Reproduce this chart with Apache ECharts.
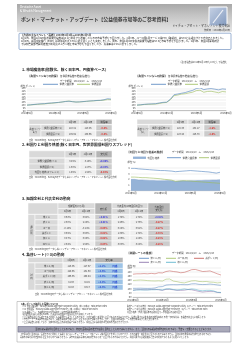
<!DOCTYPE html>
<html><head><meta charset="utf-8">
<script src="https://cdn.jsdelivr.net/npm/echarts/dist/echarts.min.js"></script>
<style>html,body{margin:0;padding:0;background:#fff}#c{width:250px;height:353px}</style>
</head><body><div id="c"></div>
<script>
// ---------- DATA ----------
const months = ['2014年2月','2014年3月','2014年4月','2014年5月','2014年6月','2014年7月','2014年8月','2014年9月','2014年10月','2014年11月','2014年12月','2015年1月','2015年2月','2015年3月','2015年4月','2015年5月','2015年6月','2015年7月','2015年8月','2015年9月','2015年10月','2015年11月','2015年12月','2016年1月','2016年2月'];
// Section 1: index (hedged / unhedged)
const utilHedged = [100,100.5,101.2,101.8,102.3,102.6,103.4,103.8,104.3,104.9,105.6,106.4,106.9,106.1,105.5,105.8,106.3,106.9,107.4,107.8,108.3,108.6,109.5,111.4,110.8];
const govtHedged = [100,100.3,100.9,101.3,101.8,102.1,102.9,103.3,104.0,104.6,105.5,106.6,107.2,106.2,105.5,105.6,106.1,106.6,107.2,107.5,108.0,108.2,108.9,109.8,109.6];
const utilUnhedged = [100,100.6,101.4,101.9,102.2,102.5,103.8,104.9,105.3,110.5,118.6,119.8,121.2,122.4,124.5,126.3,129.7,130.8,127.6,128.9,129.5,128.4,127.2,128.9,128.3];
const govtUnhedged = [100,100.2,101.1,101.4,101.6,101.8,102.9,104.1,104.8,109.6,116.9,118.0,119.6,120.3,121.8,123.0,125.9,126.6,122.9,124.4,124.7,123.4,122.0,124.2,123.5];
// Section 2: yields (%)
const spreadYield = [2.0,2.0,1.9,1.9,1.85,1.8,1.8,1.75,1.75,1.75,1.8,1.75,1.6,1.7,1.75,1.7,1.75,1.75,1.8,1.8,1.85,1.85,1.9,1.9,1.95];
const utilYield = [3.95,3.95,3.85,3.8,3.75,3.7,3.65,3.6,3.55,3.55,3.5,3.45,3.35,3.4,3.45,3.5,3.55,3.5,3.45,3.4,3.35,3.3,3.2,3.1,3.25];
const govtYield = [2.4,2.4,2.35,2.3,2.3,2.25,2.2,2.15,2.1,2.0,1.95,1.85,1.65,1.7,1.75,1.75,1.7,1.65,1.6,1.55,1.5,1.45,1.4,1.35,1.3];
// Section 4: FX (JPY)
const usdjpy = [102,102,102.5,101.8,101.5,101.8,103.5,109,110,117.5,119,119.5,119,120,119.5,119.5,123.5,124,121,120,120.5,122.5,120.5,118,116];
const eurjpy = [140,141,142,141,139,138,137.5,138.5,137,146,147,137,134,130,128,133,138,139,135,134,135,132,131,128,130];
const gbpjpy = [170,172,172,173,172,174,172,177,176,183,186,183,181,177,179,185,192,193,188,183,184,186,179,172,166];
const audjpy = [92,95,96,95,95,96,97,95,92,97,97,95,92,92,93,96,95,91,87,84,86,87,87,82,81];
const cadjpy = [93,94,94,94,94,95,95,96,94,99,100,96,94,96,99,96,99,97,92,90,92,92,89,83,82];

// tables
const tblDates = ['2月9日','1月12日'];
const s1Names = ['世界公益債券(※1)','世界国債(※2)'];
const s1HedgedNow = ['110.81','109.62'];
const s1HedgedPrev = ['110.86','109.66'];
const s1HedgedChg = ['-0.0%','-0.0%'];
const s1UnhedgedNow = ['128.33','123.48'];
const s1UnhedgedPrev = ['132.17','126.79'];
const s1UnhedgedChg = ['-2.9%','-2.6%'];

const s2Names = ['世界公益債券(※1)','世界国債(※2)','利回り格差(スプレッド)'];
const s2Now = ['3.25%','1.30%','1.95%'];
const s2Prev = ['3.19%','1.27%','1.98%'];
const s2Chg = ['+0.06%','+0.03%','-0.03%'];

const s3Names = ['米ドル','豪ドル','ユーロ','英ポンド','加ドル','NZドル'];
const s3ShortNow = ['0.63%','2.30%','-0.18%','0.59%','0.87%','2.54%'];
const s3ShortPrev = ['0.62%','2.29%','-0.14%','0.60%','0.89%','2.59%'];
const s3ShortChg = ['+0.01%','+0.01%','-0.04%','-0.01%','-0.02%','-0.05%'];
const s3LongNow = ['1.74%','2.46%','0.24%','1.39%','1.06%','3.00%'];
const s3LongPrev = ['1.72%','2.73%','0.51%','1.72%','1.29%','3.28%'];
const s3LongChg = ['+0.02%','-0.27%','-0.27%','-0.33%','-0.23%','-0.28%'];

const s4Names = ['米ドル/円','ユーロ/円','英ポンド/円','豪ドル/円','加ドル/円'];
const s4Now = ['115.06','129.55','166.35','81.33','82.83'];
const s4Prev = ['117.57','131.63','169.44','82.15','83.17'];
const s4Chg = ['+2.2%','+1.6%','+1.8%','+1.0%','+0.4%'];
const s4Dir = ['円高','円高','円高','円高','円高'];

// ---------- DRAWING ----------
const F = '"Noto Sans CJK JP", "Noto Sans CJK SC", sans-serif';
const BLUE='#4f81bd', GREEN='#9bbb59', RED='#c0504d', PURPLE='#8064a2', CYAN='#4bacc6';
const g = [];
function T(x,y,text,size,o){o=o||{};g.push({type:'text',x:x,y:y,silent:true,z:10,style:{text:text,fill:o.c||'#333',fontSize:size,fontFamily:F,fontWeight:o.b?'bold':'normal',align:o.a||'left',verticalAlign:'middle',lineHeight:o.lh||size*1.15}});}
function R(x,y,w,h,fill,stroke,lw,r){g.push({type:'rect',silent:true,z:1,shape:{x:x,y:y,width:w,height:h,r:r||0},style:{fill:fill,stroke:stroke||null,lineWidth:lw||0}});}
function L(x1,y1,x2,y2,c,lw){g.push({type:'line',silent:true,z:10,shape:{x1:x1,y1:y1,x2:x2,y2:y2},style:{stroke:c,lineWidth:lw}});}
function C(x,y,w,h,fill,text,size,o){o=o||{};R(x,y,w,h,fill,'#fff',0.5);if(text!==undefined&&text!==''){T(o.a==='left'?x+1:(o.a==='right'?x+w-1:x+w/2),y+h/2,text,size,{c:o.c,b:o.b,a:o.a||'center',lh:o.lh});}}
const HDR='#d9d9d9', HDRD='#b5b5b5', LAB='#d9d9d9', VAL='#efefef', CHG='#cccccc', FX='#9dc3e6';
function sc(s){return s.charAt(0)==='-'?'#e0201b':'#2a2ae0';}

// header band
g.push({type:'rect',silent:true,z:0,shape:{x:17,y:4,width:215,height:28},style:{fill:{type:'linear',x:0,y:0,x2:0,y2:1,colorStops:[{offset:0,color:'#a8a8a8'},{offset:0.4,color:'#c4c4c4'},{offset:1,color:'#e6e6e6'}]}}});
T(20,7,'Deutsche Asset',3,{c:'#fff'});
T(20,10.5,'& Wealth Management',3,{c:'#fff'});
T(21,19.5,'ボンド・マーケット・アップデート【公益債券市場等のご参考資料】',4.85,{c:'#3a3a3a',b:true});
T(230,25.8,'ドイチェ・アセット・マネジメント株式会社',2.9,{c:'#333',a:'right'});
T(230,30.2,'作成日：2016年2月10日',2.4,{c:'#333',a:'right'});
g.push({type:'rect',silent:true,z:1,shape:{x:209,y:7,width:18,height:19},style:{fill:{type:'linear',x:0,y:0,x2:1,y2:1,colorStops:[{offset:0,color:'#c9d4e6'},{offset:1,color:'#7f97bd'}]},stroke:'#fff',lineWidth:1}});
L(213,23,223,10,'#eef2f8',1.2);

// events box
R(19,33.2,212,16.3,'#fff','#5b7fb5',0.6,1);
T(21,35.3,'【今週の主なイベント・指標】2016年2月1日～2016年2月5日',2.5,{b:true,c:'#222'});
T(21,38.3,'2月1日、米国1月ISM製造業景況指数は48.2と前月から改善したものの市場予想を下回りました。2月3日、ユーロ圏1月サービス業PMI（確報値）は53.6と速報値から下方修正されました。',2.45,{c:'#222'});
T(21,41.3,'2月4日、英国中央銀行（BOE）は政策金利を0.5%に据え置くことを決定しました。同日、米国1月ISM非製造業景況指数は53.5と市場予想を下回りました。2月5日、米国1月雇用統計',2.45,{c:'#222'});
T(21,44.3,'では非農業部門雇用者数が前月比15.1万人増と市場予想を下回りましたが、失業率は4.9%に低下しました。',2.45,{c:'#222'});

// Section 1
T(227,62,'(注)各指数は2014年2月10日を100として指数化',2.2,{a:'right',c:'#444'});
T(22,70,'1. 市場騰落率(指数化、除く日本円、円換算ベース)',3.7,{b:true,c:'#222'});
function s1Head(x0,title){
  T(x0,75.7,title,2.6,{b:true});
  T(x0+32,75.7,'各種債券指数の推移(指数化)',2.4);
  T(x0+32,80.8,'データ期間　2014/2/10　～　2016/2/10',2.3);
  T(x0-8,86,'(単位:ポイント)',2.2);
  L(x0+15,84.3,x0+30,84.3,BLUE,0.8); T(x0+31.5,84.3,'世界公益債券',2.4);
  L(x0+49,84.3,x0+62,84.3,GREEN,0.8); T(x0+63.5,84.3,'世界国債',2.4);
}
s1Head(28,'【為替ヘッジあり円換算】');
s1Head(136,'【為替ヘッジなし円換算】');
function s1Table(x0,label,now,prev,chg){
  const y0=119.3,hh=5,rh=6;
  C(x0,y0,36,hh,HDR); C(x0+36,y0,15,hh,HDR,tblDates[0],2.4); C(x0+51,y0,16,hh,HDR,tblDates[1],2.4); C(x0+67,y0,16,hh,HDRD,'騰落率',2.4);
  C(x0,y0+hh+0.5,12,rh*2,LAB,label,2.2,{lh:2.8});
  for(let i=0;i<2;i++){
    const y=y0+hh+0.5+i*rh;
    C(x0+12,y,24,rh,LAB,s1Names[i],2.2);
    C(x0+36,y,15,rh,VAL,now[i],2.3); C(x0+51,y,16,rh,VAL,prev[i],2.3);
    C(x0+67,y,16,rh,CHG,chg[i],2.4,{c:sc(chg[i]),b:true});
  }
}
s1Table(29,'為替ヘッジ\nあり',s1HedgedNow,s1HedgedPrev,s1HedgedChg);
s1Table(137,'為替ヘッジ\nなし',s1UnhedgedNow,s1UnhedgedPrev,s1UnhedgedChg);
T(29,140.3,'出所：Bloomberg、Barclaysのデータを基にドイチェ・アセット・マネジメント株式会社作成',2.1,{c:'#444'});

// Section 2
T(22,144.7,'2. 利回りと利回り格差(除く日本円、対世界国債利回りスプレッド)',3.7,{b:true,c:'#222'});
(function(){
  const x0=29,y0=150.8,hh=7,rh=5.7;
  C(x0,y0,36,hh,HDR); C(x0+36,y0,15,hh,HDR,tblDates[0],2.4); C(x0+51,y0,16,hh,HDR,tblDates[1],2.4); C(x0+67,y0,16,hh,HDRD,'変化幅',2.4);
  for(let i=0;i<3;i++){
    const y=y0+hh+0.5+i*rh;
    C(x0,y,36,rh,LAB,s2Names[i],2.3);
    C(x0+36,y,15,rh,VAL,s2Now[i],2.3); C(x0+51,y,16,rh,VAL,s2Prev[i],2.3);
    C(x0+67,y,16,rh,CHG,s2Chg[i],2.4,{c:sc(s2Chg[i]),b:true});
  }
})();
T(29,177.6,'出所：Bloomberg、Barclaysのデータを基にドイチェ・アセット・マネジメント株式会社作成',2.1,{c:'#444'});
T(127,151.7,'【利回りと利回り格差の推移】',2.7,{b:true});
T(172,151.7,'データ期間　2014/2/10　～　2016/2/10',2.3);
R(133,156.6,13,2.3,'#95b3d7'); T(147.5,157.7,'利回り格差',2.4);
L(167,157.7,181,157.7,BLUE,0.8); T(182.5,157.7,'世界公益債券',2.4);
L(199,157.7,209,157.7,GREEN,0.8); T(210.5,157.7,'世界国債',2.4);
T(127,162.5,'(単位:%)',2.2);

// Section 3
T(22,199,'3. 短期金利と代表金利の動向',3.7,{b:true,c:'#222'});
(function(){
  const y0=203,h1=5.6,rh=5.3;
  C(28,y0,30,h1*2,HDR);
  C(58,y0,37,h1,HDR,'短期金利(3ヵ月)',2.3);
  C(58,y0+h1,19,h1,HDR,tblDates[0],2.3); C(77,y0+h1,18,h1,HDR,tblDates[1],2.3);
  C(95,y0,17,h1*2,HDRD,'変化幅',2.4);
  C(112,y0,36,h1,HDR,'代表金利(10年国債利回り)',2.2);
  C(112,y0+h1,18,h1,HDR,tblDates[0],2.3); C(130,y0+h1,18,h1,HDR,tblDates[1],2.3);
  C(148,y0,22,h1*2,HDRD,'代表金利\n変化幅',2.3,{lh:2.9});
  const yb=y0+h1*2+0.3;
  C(28,yb,7,rh*6,LAB,'通\n貨\n別',2.4,{lh:2.9});
  for(let i=0;i<6;i++){
    const y=yb+i*rh;
    C(35,y,23,rh,LAB,s3Names[i],2.3);
    C(58,y,19,rh,VAL,s3ShortNow[i],2.3); C(77,y,18,rh,VAL,s3ShortPrev[i],2.3);
    C(95,y,17,rh,CHG,s3ShortChg[i],2.3,{c:sc(s3ShortChg[i]),b:true});
    C(112,y,18,rh,VAL,s3LongNow[i],2.3); C(130,y,18,rh,VAL,s3LongPrev[i],2.3);
    C(148,y,22,rh,CHG,s3LongChg[i],2.3,{c:sc(s3LongChg[i]),b:true});
  }
})();
T(29,249.5,'出所：Bloombergのデータを基にドイチェ・アセット・マネジメント株式会社作成',2.1,{c:'#444'});

// Section 4
T(22,254.6,'4. 為替レート(※3)の動向',3.7,{b:true,c:'#222'});
(function(){
  const y0=257.5,hh=5.2,rh=5.4;
  C(28,y0,35,hh,HDR); C(63,y0,16,hh,HDR,tblDates[0],2.3); C(79,y0,16,hh,HDR,tblDates[1],2.3); C(95,y0,28,hh,HDRD,'変化率',2.4);
  const yb=y0+hh+0.3;
  C(28,yb,7,rh*5,LAB,'対\n円',2.4,{lh:3});
  for(let i=0;i<5;i++){
    const y=yb+i*rh;
    C(35,y,28,rh,LAB,s4Names[i],2.3);
    C(63,y,16,rh,VAL,s4Now[i],2.3); C(79,y,16,rh,VAL,s4Prev[i],2.3);
    C(95,y,28,rh,FX);
    T(102,y+rh/2,s4Chg[i],2.4,{c:'#1f3fd0',b:true,a:'center'});
    T(115,y+rh/2,s4Dir[i],2.4,{c:'#1f3fd0',b:true,a:'center'});
  }
})();
T(35,294.6,'出所：Bloombergのデータを基にドイチェ・アセット・マネジメント株式会社作成',2.1,{c:'#444'});
T(127,253.3,'【為替レートの推移】',2.7,{b:true});
T(172,253.3,'データ期間　2014/2/10　～　2016/2/10',2.3);
L(139,258.3,149,258.3,BLUE,0.8); T(150.5,258.3,'米ドル/円',2.3);
L(166,258.3,176,258.3,GREEN,0.8); T(177.5,258.3,'ユーロ/円',2.3);
L(194,258.3,204,258.3,RED,0.8); T(205.5,258.3,'英ポンド/円',2.3);
L(139,262.3,149,262.3,PURPLE,0.8); T(150.5,262.3,'豪ドル/円',2.3);
L(166,262.3,176,262.3,CYAN,0.8); T(177.5,262.3,'加ドル/円',2.3);
T(127,266.6,'(単位:円)',2.2);

// Notes box
R(17,301.5,214,40.5,'#fff','#9a9a9a',0.5);
T(20,303.8,'【本レポートで使用した指数について】',2.2,{b:true,c:'#222'});
const notes=[
 ['(※1) 世界公益債券：Barclays Global Aggregate Corporate Utility（除く日本円）Total Return Index','為替ヘッジあり円換算：Barclays Global Aggregate Corporate Utility（円ヘッジ）Total Return Index'],
 ['(※2) 世界国債：Barclays Global Aggregate Treasuries（除く日本円）Total Return Index','為替ヘッジあり円換算：Barclays Global Aggregate Treasuries（円ヘッジ）Total Return Index'],
 ['(※3) 為替レート：Bloomberg Generic Rate（東京時間午後3時時点）','利回り格差：世界公益債券の最終利回り－世界国債の最終利回り'],
 ['(注)短期金利は3ヵ月物LIBOR等、代表金利は各国10年国債利回りを使用しています。',''],
 ['※上記指数は当社が信頼できると判断した情報源から入手したものですが、その正確性・完全性を保証するものではありません。指数に関する著作権等の知的財産権その他一切の権利は、各指数の算出元に帰属します。',''],
 ['※グラフ・データは過去の実績であり、将来の運用成果等を示唆・保証するものではありません。また、当資料中の為替レートの変化率は円から見た変化率です。',''],
 ['※上記は指数を使用しており、実際の投資信託の運用実績ではありません。投資信託には運用管理費用等の費用がかかります。','']
];
for(let i=0;i<notes.length;i++){
  const y=306.6+i*2.6;
  T(22,y,notes[i][0],1.9,{c:'#333'});
  if(notes[i][1]) T(127,y,notes[i][1],1.9,{c:'#333'});
}
R(18,326.5,212,5.6,'#a9a9b9','#6b6b8a',0.6);
T(124,329.3,'当資料は情報提供を目的としたものであり、特定の金融商品の推奨や勧誘を目的としたものではありません。また、当資料の情報は作成時点のものであり、予告なく変更されることがあります。',2.05,{a:'center',c:'#222'});
T(20,334.6,'【留意事項】当資料は、信頼できると判断した情報をもとにドイチェ・アセット・マネジメント株式会社が作成したものですが、その正確性・完全性を保証するものではありません。当資料中の見解等は作成時点のものであり、',1.9,{c:'#333'});
T(20,337.2,'将来の市場環境の変動等を保証するものではありません。過去の実績は将来の運用成果等を示唆・保証するものではありません。投資に関する最終決定はご自身の判断でなさるようお願いいたします。',1.9,{c:'#333'});

// ---------- CHARTS ----------
function xa(gi){return {type:'category',gridIndex:gi,data:months,boundaryGap:false,
  axisLabel:{interval:7,fontSize:2.4,margin:1.6,color:'#333',fontFamily:F},
  axisTick:{show:false},axisLine:{lineStyle:{color:'#8c8c8c',width:0.5}}};}
function ya(gi,min,max,iv){return {type:'value',gridIndex:gi,min:min,max:max,interval:iv,
  axisLabel:{fontSize:2.4,margin:1.5,color:'#333',fontFamily:F},
  axisLine:{show:false},axisTick:{show:false},splitLine:{lineStyle:{color:'#d4d4d4',width:0.4}}};}
function ln(name,gi,data,color,w){return {type:'line',name:name,xAxisIndex:gi,yAxisIndex:gi,data:data,showSymbol:false,symbol:'none',lineStyle:{color:color,width:w||0.6},itemStyle:{color:color}};}

const chart = echarts.init(document.getElementById('c'),null,{renderer:'canvas',width:250,height:353});
chart.setOption({
  animation:false,
  backgroundColor:'#fff',
  grid:[
    {left:27,top:88.3,width:84,height:22.4},
    {left:137,top:88.3,width:89,height:22.4},
    {left:131,top:168,width:89,height:22.7},
    {left:133,top:268,width:88,height:29}
  ],
  xAxis:[xa(0),xa(1),xa(2),xa(3)],
  yAxis:[ya(0,90,130,5),ya(1,90,130,5),ya(2,0,4,1),ya(3,60,200,20)],
  series:[
    ln('世界国債',0,govtHedged,GREEN),
    ln('世界公益債券',0,utilHedged,BLUE),
    ln('世界国債',1,govtUnhedged,GREEN),
    ln('世界公益債券',1,utilUnhedged,BLUE),
    Object.assign(ln('利回り格差',2,spreadYield,'#7c9fcf',0.4),{areaStyle:{color:'#95b3d7',opacity:1}}),
    ln('世界公益債券',2,utilYield,BLUE),
    ln('世界国債',2,govtYield,GREEN),
    ln('米ドル/円',3,usdjpy,BLUE,0.5),
    ln('ユーロ/円',3,eurjpy,GREEN,0.5),
    ln('英ポンド/円',3,gbpjpy,RED,0.5),
    ln('豪ドル/円',3,audjpy,PURPLE,0.5),
    ln('加ドル/円',3,cadjpy,CYAN,0.5)
  ],
  graphic:{elements:g}
});
</script></body></html>
